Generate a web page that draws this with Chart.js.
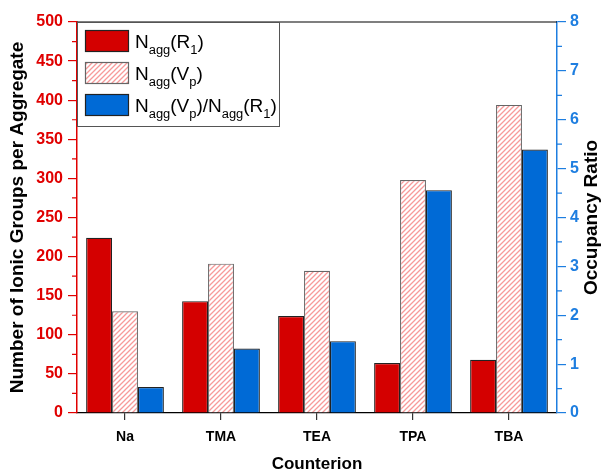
<!DOCTYPE html>
<html lang="en">
<head>
	<meta charset="UTF-8">
	<title>Aggregation Number by Counterion</title>
	<style>
		body { margin: 0; background: #fff; }
		#chart { display: block; }
	</style>
</head>
<body>
	<canvas id="chart" width="603" height="474"></canvas>
	<script src="https://cdn.jsdelivr.net/npm/chart.js"></script>
	<script>
		const categories = ['Na', 'TMA', 'TEA', 'TPA', 'TBA'];
		const naggR1 = [224, 143, 124, 64, 68];
		const naggVp = [130, 191, 182, 298, 394];
		const occupancy = [0.53, 1.32, 1.47, 4.56, 5.39];

		const RED = '#d40000';
		const BLUE = '#006ad6';
		const AXIS_RED = '#e00000';
		const AXIS_BLUE = '#1e7ee0';
		const FONT = '"Liberation Sans", Arial, sans-serif';

		// pink diagonal hatch for the Vp bars
		function hatch() {
			const s = 5;
			const c = document.createElement('canvas');
			c.width = s; c.height = s;
			const g = c.getContext('2d');
			g.fillStyle = '#fff';
			g.fillRect(0, 0, s, s);
			g.strokeStyle = '#f79a9a';
			g.lineWidth = 1.3;
			g.beginPath();
			g.moveTo(-1, s + 1); g.lineTo(s + 1, -1);
			g.moveTo(-1, 1); g.lineTo(1, -1);
			g.moveTo(s - 1, s + 1); g.lineTo(s + 1, s - 1);
			g.stroke();
			return g.createPattern(c, 'repeat');
		}
		const hatchFill = hatch();

		// draws text pieces, some of them as subscripts
		function richText(ctx, parts, x, y, size) {
			for (const p of parts) {
				const fs = p.sub ? size * 0.68 : size;
				ctx.font = fs + 'px ' + FONT;
				ctx.fillText(p.t, x, p.sub ? y + size * 0.3 : y);
				x += ctx.measureText(p.t).width;
			}
		}

		const legendRows = [
			{ fill: RED, border: '#222', parts: [{ t: 'N' }, { t: 'agg', sub: true }, { t: '(R' }, { t: '1', sub: true }, { t: ')' }] },
			{ fill: hatchFill, border: '#666', parts: [{ t: 'N' }, { t: 'agg', sub: true }, { t: '(V' }, { t: 'p', sub: true }, { t: ')' }] },
			{ fill: BLUE, border: '#222', parts: [{ t: 'N' }, { t: 'agg', sub: true }, { t: '(V' }, { t: 'p', sub: true }, { t: ')/N' }, { t: 'agg', sub: true }, { t: '(R' }, { t: '1', sub: true }, { t: ')' }] }
		];

		const decorations = {
			id: 'decorations',
			afterDraw(chart) {
				const ctx = chart.ctx;
				const a = chart.chartArea;
				const y = chart.scales.y, y2 = chart.scales.y2;
				ctx.save();

				// frame top
				ctx.strokeStyle = '#000';
				ctx.lineWidth = 1.2;
				ctx.beginPath();
				ctx.moveTo(a.left, a.top); ctx.lineTo(a.right, a.top);
				ctx.stroke();

				// minor ticks
				ctx.lineWidth = 1.2;
				ctx.strokeStyle = AXIS_RED;
				ctx.beginPath();
				for (let v = 25; v < 500; v += 50) {
					const py = y.getPixelForValue(v);
					ctx.moveTo(a.left, py); ctx.lineTo(a.left - 5, py);
				}
				ctx.stroke();
				ctx.strokeStyle = AXIS_BLUE;
				ctx.beginPath();
				for (let v = 0.5; v < 8; v += 1) {
					const py = y2.getPixelForValue(v);
					ctx.moveTo(a.right, py); ctx.lineTo(a.right + 5, py);
				}
				ctx.stroke();

				// axis titles
				ctx.fillStyle = '#000';
				ctx.textAlign = 'center';
				ctx.textBaseline = 'middle';
				ctx.font = 'bold 17px ' + FONT;
				ctx.fillText('Counterion', (a.left + a.right) / 2, 464);
				ctx.font = 'bold 19px ' + FONT;
				ctx.save();
				ctx.translate(18, (a.top + a.bottom) / 2);
				ctx.rotate(-Math.PI / 2);
				ctx.fillText('Number of Ionic Groups per Aggregate', 0, 0);
				ctx.restore();
				ctx.save();
				ctx.translate(592, (a.top + a.bottom) / 2);
				ctx.rotate(-Math.PI / 2);
				ctx.fillText('Occupancy Ratio', 0, 0);
				ctx.restore();

				// legend box
				ctx.fillStyle = '#fff';
				ctx.fillRect(a.left, a.top, 202, 104);
				ctx.strokeStyle = '#555';
				ctx.lineWidth = 1;
				ctx.strokeRect(a.left + 0.5, a.top + 0.5, 202, 104);
				ctx.textAlign = 'left';
				ctx.textBaseline = 'alphabetic';
				legendRows.forEach((r, i) => {
					const top = a.top + 8 + i * 32;
					ctx.fillStyle = r.fill;
					ctx.fillRect(85, top, 43, 21);
					ctx.strokeStyle = r.border;
					ctx.lineWidth = 1.2;
					ctx.strokeRect(85.5, top + 0.5, 43, 21);
					ctx.fillStyle = '#000';
					richText(ctx, r.parts, 135, top + 18, 19);
				});
				ctx.restore();
			}
		};

		new Chart(document.getElementById('chart'), {
			type: 'bar',
			data: {
				labels: categories,
				datasets: [
					{ label: 'Nagg(R1)', data: naggR1, backgroundColor: RED, borderColor: '#222', borderWidth: 1.2, yAxisID: 'y' },
					{ label: 'Nagg(Vp)', data: naggVp, backgroundColor: hatchFill, borderColor: '#666', borderWidth: 1.2, yAxisID: 'y' },
					{ label: 'Nagg(Vp)/Nagg(R1)', data: occupancy, backgroundColor: BLUE, borderColor: '#222', borderWidth: 1.2, yAxisID: 'y2' }
				]
			},
			options: {
				responsive: false,
				animation: false,
				categoryPercentage: 0.81,
				barPercentage: 1,
				layout: { padding: { top: 22 } },
				plugins: { legend: { display: false }, tooltip: { enabled: false } },
				scales: {
					x: {
						afterFit(s) { s.height = 61; },
						grid: { drawOnChartArea: false, offset: false, tickLength: 7, color: '#333', lineWidth: 1.2 },
						border: { color: '#000', width: 1.2 },
						ticks: { color: '#000', padding: 9, font: { family: FONT, size: 14, weight: 'bold' } }
					},
					y: {
						position: 'left',
						min: 0, max: 500,
						afterFit(s) { s.width = 77; },
						grid: { drawOnChartArea: false, tickLength: 9, color: AXIS_RED, lineWidth: 1.2 },
						border: { color: AXIS_RED, width: 1.5 },
						ticks: { stepSize: 50, color: AXIS_RED, padding: 5, font: { family: FONT, size: 16, weight: 'bold' } }
					},
					y2: {
						position: 'right',
						min: 0, max: 8,
						afterFit(s) { s.width = 46; },
						grid: { drawOnChartArea: false, tickLength: 9, color: AXIS_BLUE, lineWidth: 1.2 },
						border: { color: AXIS_BLUE, width: 1.5 },
						ticks: { stepSize: 1, color: AXIS_BLUE, padding: 4, font: { family: FONT, size: 16, weight: 'bold' } }
					}
				}
			},
			plugins: [decorations]
		});
	</script>
</body>
</html>
